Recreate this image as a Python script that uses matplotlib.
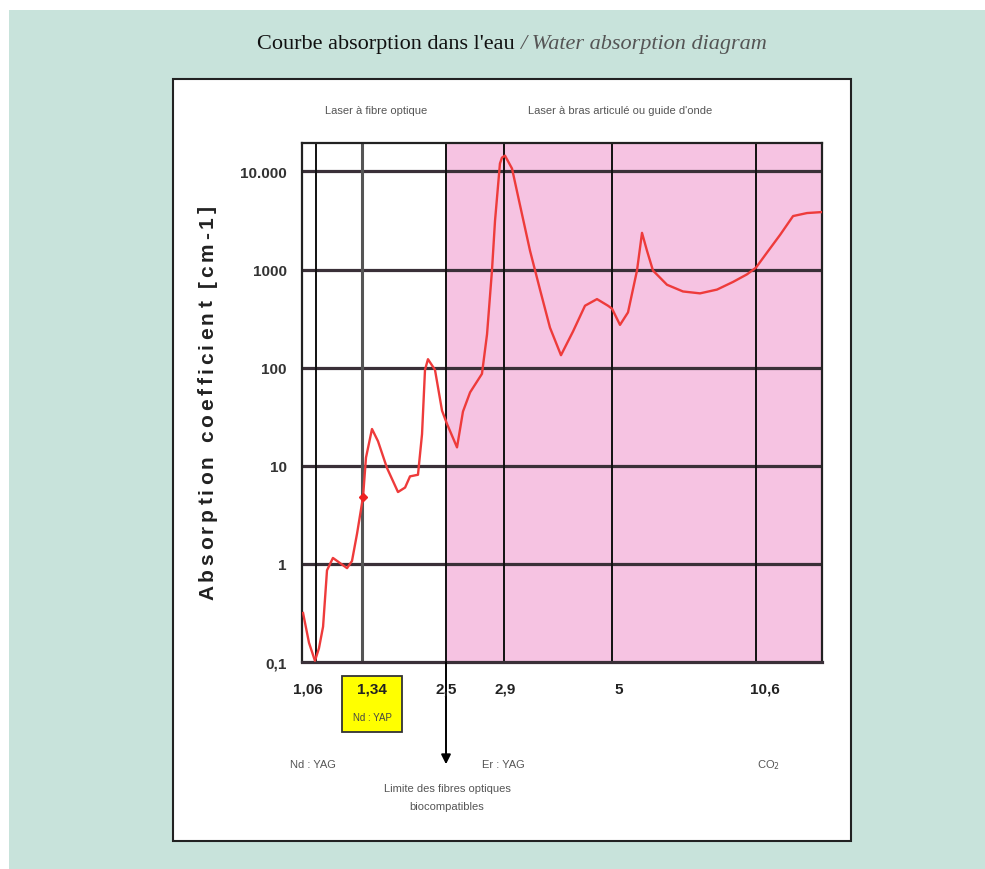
import numpy as np
import matplotlib
matplotlib.use("Agg")
import matplotlib.pyplot as plt
from matplotlib.patches import Rectangle
from matplotlib.font_manager import FontProperties

# water absorption curve
wavelength = [0.986, 1.020, 1.054, 1.078, 1.103, 1.127, 1.163, 1.206, 1.249, 1.279,
              1.310, 1.354, 1.395, 1.478, 1.561, 1.685, 1.837, 1.935, 2.003, 2.113,
              2.169, 2.210, 2.251, 2.348, 2.445, 2.507, 2.576, 2.617, 2.666, 2.748,
              2.783, 2.817, 2.838, 2.872, 2.886, 2.919, 3.056, 3.211, 3.406, 3.600, 3.794,
              4.008, 4.242, 4.475, 4.708, 4.922, 5.000, 5.311, 5.622, 5.972, 6.167,
              6.361, 6.594, 7.139, 7.761, 8.422, 9.083, 9.706, 10.25, 10.60, 11.03,
              11.55, 12.06, 12.61, 13.20]
absorption = [0.316, 0.157, 0.103, 0.138, 0.229, 0.86, 1.15, 1.02, 0.905, 1.07,
              2.04, 4.8, 12.1, 23.7, 17.8, 9.5, 5.4, 6.0, 7.8, 8.1,
              21, 95, 122, 95, 36.5, 26.7, 15.4, 35.7, 56, 86.6,
              219, 977, 3130, 12050, 13840, 14500, 10700, 4540, 1555, 625, 256,
              134, 234, 428, 500, 428, 400, 273, 366, 977, 2366,
              1555, 977, 700, 598, 572, 625, 748, 894, 1047, 1486,
              2260, 3510, 3767, 3855]

laser_wl = [1.06, 1.34, 2.5, 2.9, 5, 10.6]
laser_labels = ["1,06", "1,34", "2,5", "2,9", "5", "10,6"]
y_ticks = [0.1, 1, 10, 100, 1000, 10000]
y_labels = ["0,1", "1", "10", "100", "1000", "10.000"]
fiber_limit = 2.5
marker_wl, marker_abs = 1.354, 4.8

# piecewise x axis of the original drawing (wavelength -> pixel offset)
knot_wl = [0.98, 1.06, 1.34, 2.5, 2.9, 5, 10.6, 13.2]
knot_px = [0, 14, 60, 144, 202, 310, 454, 520]

W, H = 985, 870
def fx(x):
    return x / W
def fy(y):
    return 1 - y / H

fig = plt.figure(figsize=(W / 100, H / 100), dpi=100)
fig.patch.set_facecolor("white")
fig.patches.append(Rectangle((fx(9), 0), 1 - fx(9), fy(11), transform=fig.transFigure,
                             facecolor="#c8e3db", edgecolor="none", zorder=-3))
fig.patches.append(Rectangle((fx(173), fy(842)), fx(851) - fx(173), fy(80) - fy(842),
                             transform=fig.transFigure, facecolor="white",
                             edgecolor="#222222", lw=1.5, zorder=-2))

ax = fig.add_axes([fx(302), fy(663), fx(822) - fx(302), fy(144) - fy(663)])
ax.set_xscale("function", functions=(lambda v: np.interp(v, knot_wl, knot_px),
                                     lambda p: np.interp(p, knot_px, knot_wl)))
ax.set_yscale("log")
ax.set_xlim(knot_wl[0], knot_wl[-1])
ax.set_ylim(0.1, 10 ** 4.29)
ax.set_facecolor("white")

ax.axvspan(fiber_limit, knot_wl[-1], color="#f6c3e2", zorder=0, lw=0)
for v in y_ticks[1:]:
    ax.axhline(v, color="#3a3038", lw=2.3, zorder=1)
for w in laser_wl:
    if w == 1.34:
        ax.axvline(w, color="#555555", lw=2.2, zorder=1)
    else:
        ax.axvline(w, color="#111111", lw=1.4, zorder=1)

ax.plot(wavelength, absorption, color="#ee3b3b", lw=1.7, zorder=3,
        solid_joinstyle="round")
ax.plot(marker_wl, marker_abs, marker="D", ms=4, color="#ee2222", zorder=4)

for s in ax.spines.values():
    s.set_color("#222222")
    s.set_linewidth(1.6)
ax.spines["bottom"].set_color("#3a3038")
ax.spines["bottom"].set_linewidth(2.3)

ax.set_xticks([])
ax.minorticks_off()
ax.set_yticks(y_ticks)
ax.set_yticklabels(y_labels, fontsize=11, fontweight="bold", color="#333333",
                   family="Liberation Sans")
ax.tick_params(axis="y", length=0, pad=11, which="both")
ax.yaxis.set_minor_locator(matplotlib.ticker.NullLocator())

# yellow box around 1,34
fig.patches.append(Rectangle((fx(342), fy(733)), fx(402) - fx(342), fy(677) - fy(733),
                             transform=fig.transFigure, facecolor="#ffff00",
                             edgecolor="#333333", lw=1.3, zorder=-1))
fig.text(fx(372), fy(718), "Nd : YAP", ha="center", va="center", fontsize=7,
         color="#444444", family="Liberation Sans")

# x labels under the laser lines
xt = ax.get_xaxis_transform()
offsets = [-8, 10, 0, 1, 7, 9]
for w, lab, off in zip(laser_wl, laser_labels, offsets):
    ax.annotate(lab, xy=(w, -0.052), xycoords=xt, xytext=(off, 0),
                textcoords="offset pixels", ha="center", va="center",
                fontsize=11, fontweight="bold", color="#222222",
                family="Liberation Sans", annotation_clip=False, zorder=6)

# arrow for the fibre limit
ax.annotate("", xy=(fiber_limit, -0.197), xycoords=xt, xytext=(fiber_limit, 0),
            textcoords=xt, annotation_clip=False,
            arrowprops=dict(arrowstyle="-|>", color="black", lw=1.4,
                            mutation_scale=14, shrinkA=0, shrinkB=0))

small = dict(fontsize=8, color="#555555", family="Liberation Sans",
             ha="center", va="center")
fig.text(fx(376), fy(111), "Laser à fibre optique", **small)
fig.text(fx(620), fy(111), "Laser à bras articulé ou guide d'onde", **small)
fig.text(fx(313), fy(765), "Nd : YAG", **small)
fig.text(fx(503), fy(765), "Er : YAG", **small)
fig.text(fx(768), fy(765), "CO$_2$", **small)
fig.text(fx(447), fy(789), "Limite des fibres optiques", **small)
fig.text(fx(447), fy(807), "biocompatibles", **small)

r = fig.canvas.get_renderer()

# letter-spaced vertical axis title
ylab = "Absorption coefficient [cm-1]"
ysize = 15
prop = FontProperties(family="Liberation Sans", weight="bold", size=ysize)
widths = []
for c in ylab:
    if c == " ":
        widths.append(0.28 * ysize * 100 / 72)
    else:
        widths.append(r.get_text_width_height_descent(c, prop, ismath=False)[0])
y_bottom, y_top = 600, 206
gap = ((y_bottom - y_top) - sum(widths)) / (len(ylab) - 1)
pos = y_bottom
for c, cw in zip(ylab, widths):
    if c != " ":
        fig.text(fx(213), fy(pos), c, rotation=90, rotation_mode="anchor",
                 ha="left", va="baseline", fontproperties=prop, color="#222222")
    pos -= cw + gap

# two-part title
t1 = fig.text(0, fy(45), "Courbe absorption dans l'eau ", fontsize=16,
              family="Liberation Serif", color="#111111", va="center")
t2 = fig.text(0, fy(45), "/ Water absorption diagram", fontsize=16,
              family="Liberation Serif", style="italic", color="#555555", va="center")
w1 = t1.get_window_extent(r).width
w2 = t2.get_window_extent(r).width
x0 = 512 - (w1 + w2) / 2
t1.set_x(fx(x0))
t2.set_x(fx(x0 + w1))

fig.savefig("out.png", dpi=100)
